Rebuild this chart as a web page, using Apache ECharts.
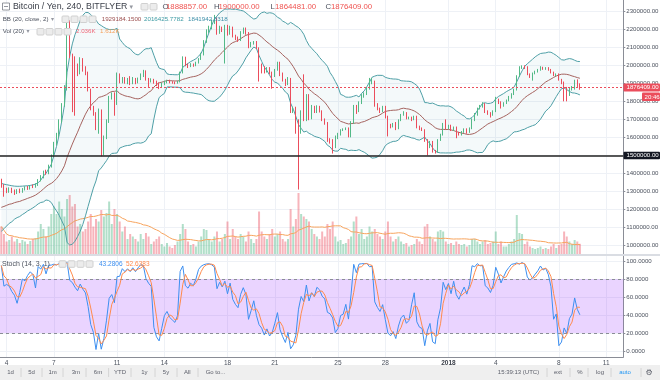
<!DOCTYPE html>
<html><head><meta charset="utf-8">
<script src="https://cdn.jsdelivr.net/npm/echarts@6/dist/echarts.min.js"></script>
<style>html,body{margin:0;padding:0;background:#fff}#c{width:660px;height:380px}</style>
</head><body><div id="c"></div>
<script>
// ---- DATA (prices in thousands of JPY, 4h bars from 2017-12-03 16:00) ----
const opens = [1358,1335,1310,1300,1315,1300,1292,1305,1298,1312,1320,1315,1328,1325,1340,1362,1380,1410,1400,1440,
1495,1565,1610,1690,1780,1870,2230,2050,2030,1990,1960,2030,1983,1960,1865,1760,1735,1650,1745,1510,
1600,1690,1820,1840,1790,1945,1910,1925,1905,1920,1905,1925,1905,1925,1945,1960,1925,1912,1920,1905,
1895,1880,1895,1910,1915,1908,1905,1902,1910,1960,2040,2000,1995,2005,2000,2015,2035,2060,2130,2190,
2210,2240,2255,2180,2210,2195,2215,2175,2210,2165,2150,2140,2180,2200,2180,2105,2125,2130,2095,2002,
1990,1965,1985,1960,1940,1975,2015,1950,1920,1895,1925,1745,1760,1690,1640,1740,1700,1830,1705,1770,
1740,1770,1745,1700,1680,1585,1575,1545,1600,1620,1640,1645,1650,1605,1680,1770,1745,1790,1830,1840,
1870,1905,1910,1780,1760,1745,1770,1715,1670,1660,1675,1650,1695,1725,1735,1705,1710,1700,1715,1660,
1650,1640,1585,1555,1575,1525,1520,1585,1615,1668,1650,1665,1640,1655,1625,1615,1630,1645,1630,1650,
1695,1725,1760,1770,1785,1740,1735,1725,1745,1810,1795,1775,1790,1805,1820,1840,1865,1940,1985,1995,
1990,1950,1945,1955,1965,1975,1988,1980,1985,1975,1960,1945,1950,1920,1905,1850,1838,1870,1880,1915,1888.857];
const closes = [1335,1310,1300,1315,1300,1292,1305,1298,1312,1320,1315,1328,1325,1340,1362,1380,1410,1400,1440,1495,
1565,1610,1690,1780,1870,2230,2050,2030,1990,1960,2030,1983,1960,1865,1760,1735,1650,1745,1510,1600,
1690,1820,1840,1790,1945,1910,1925,1905,1920,1905,1925,1905,1925,1945,1960,1925,1912,1920,1905,1895,
1880,1895,1910,1915,1908,1905,1902,1910,1960,2040,2000,1995,2005,2000,2015,2035,2060,2130,2190,2210,
2240,2255,2180,2210,2195,2215,2175,2210,2165,2150,2140,2180,2200,2180,2105,2125,2130,2095,2002,1990,
1965,1985,1960,1940,1975,2015,1950,1920,1895,1925,1745,1760,1690,1640,1740,1700,1830,1705,1770,1740,
1770,1745,1700,1680,1585,1575,1545,1600,1620,1640,1645,1650,1605,1680,1770,1745,1790,1830,1840,1870,
1905,1910,1780,1760,1745,1770,1715,1670,1660,1675,1650,1695,1725,1735,1705,1710,1700,1715,1660,1650,
1640,1585,1555,1575,1525,1520,1585,1615,1668,1650,1665,1640,1655,1625,1615,1630,1645,1630,1650,1695,
1725,1760,1770,1785,1740,1735,1725,1745,1810,1795,1775,1790,1805,1820,1840,1865,1940,1985,1995,1990,
1950,1945,1955,1965,1975,1988,1980,1985,1975,1960,1945,1950,1920,1905,1850,1838,1870,1880,1915,1889,1876.409];
const highs = [1370,1340,1320,1322,1320,1310,1312,1315,1318,1328,1330,1335,1338,1345,1368,1390,1415,1420,1448,1505,
1575,1625,1700,1790,1890,2240,2250,2065,2050,2010,2045,2040,1995,1965,1870,1775,1740,1760,1755,1610,
1700,1830,1850,1850,1960,1955,1935,1935,1930,1940,1935,1930,1932,1955,1975,1972,1930,1928,1925,1915,
1905,1905,1915,1920,1920,1912,1910,1915,1965,2050,2048,2010,2012,2010,2020,2040,2070,2140,2200,2220,
2255,2280,2265,2220,2215,2225,2225,2220,2215,2170,2160,2190,2210,2210,2185,2130,2135,2135,2100,2010,
1995,1990,1990,1965,1980,2020,2020,1960,1925,1935,1930,1770,1770,1700,1750,1950,1840,1840,1780,1775,
1778,1775,1750,1705,1685,1595,1590,1610,1625,1645,1650,1655,1655,1690,1780,1780,1800,1840,1850,1880,
1930,1930,1915,1790,1765,1775,1775,1720,1675,1680,1685,1700,1730,1745,1740,1715,1715,1720,1720,1665,
1655,1645,1590,1580,1580,1530,1590,1620,1680,1700,1670,1670,1660,1660,1630,1635,1650,1650,1655,1705,
1735,1765,1780,1795,1790,1750,1740,1750,1825,1815,1800,1795,1810,1830,1845,1870,1945,1995,2000,2000,
1995,1955,1960,1970,1980,1995,1992,1990,1990,1980,1965,1955,1955,1925,1910,1880,1875,1885,1920,1922,1900];
const lows = [1320,1270,1290,1292,1290,1280,1285,1290,1292,1305,1308,1310,1318,1320,1330,1355,1372,1392,1395,1432,
1490,1555,1600,1680,1770,1860,2040,1740,1720,1940,1950,1965,1945,1855,1750,1720,1640,1620,1495,1500,
1590,1680,1810,1720,1780,1900,1900,1898,1895,1890,1895,1895,1900,1918,1935,1915,1880,1905,1898,1885,
1868,1875,1890,1900,1900,1898,1895,1898,1905,1955,1995,1985,1990,1992,1995,2010,2030,2055,2125,2180,
2200,2230,2170,2175,2185,2010,2165,2170,2155,2140,2130,2135,2175,2170,2095,2100,2115,2090,1910,1955,
1955,1960,1950,1870,1935,1970,1940,1910,1885,1890,1735,1735,1620,1310,1620,1690,1690,1695,1700,1735,
1735,1738,1690,1670,1575,1565,1510,1540,1590,1610,1635,1640,1600,1600,1675,1730,1740,1785,1820,1835,
1865,1895,1770,1750,1735,1740,1705,1605,1650,1655,1640,1645,1690,1720,1700,1700,1690,1695,1650,1640,
1635,1575,1500,1540,1515,1510,1515,1580,1610,1645,1645,1635,1635,1595,1610,1610,1625,1620,1625,1645,
1690,1720,1755,1765,1735,1725,1710,1720,1740,1785,1760,1770,1785,1800,1815,1835,1860,1935,1980,1980,
1945,1930,1915,1950,1960,1970,1975,1975,1970,1955,1940,1940,1915,1895,1800,1800,1830,1860,1865,1880,1864.481];
// volume in thousands (K)
const volumes = [5.5,4.0,2.5,2.8,3.5,2.5,3.0,2.2,2.8,2.5,2.0,2.6,3.0,3.2,
4.5,6.0,5.0,3.5,5.5,8.0,9.5,8.0,10.5,9.0,7.5,11.0,11.8,9.5,10.0,5.5,6.0,4.5,5.0,6.5,8.0,5.5,7.0,6.5,8.8,7.5,8.2,10.5,6.0,9.0,8.0,6.5,
4.5,5.5,3.0,4.0,3.5,3.0,2.5,4.0,3.0,4.2,3.5,2.0,2.5,3.0,3.5,2.0,1.5,2.2,1.5,1.2,1.8,2.5,4.0,6.0,5.0,2.5,1.8,2.0,1.5,2.5,3.5,5.0,4.8,3.0,2.5,3.5,4.5,2.5,3.0,4.0,6.5,3.0,5.0,3.5,
3.0,4.0,3.5,2.5,4.5,3.0,2.2,3.0,8.5,4.5,3.5,3.0,4.0,5.0,3.5,4.0,4.5,3.0,2.5,3.0,9.0,5.5,7.0,12.2,8.0,7.5,7.0,6.5,5.0,4.0,3.5,3.0,4.5,3.5,6.0,5.0,6.5,3.5,2.5,2.8,2.0,2.2,3.0,3.5,6.5,
7.5,4.0,5.0,3.0,3.5,5.5,4.5,5.0,4.0,3.5,3.0,4.5,6.5,3.5,2.5,3.0,3.5,2.5,2.0,2.2,1.5,1.8,2.0,3.0,2.5,2.0,5.5,6.0,3.5,3.0,2.5,4.5,4.8,4.5,2.5,2.0,2.2,1.8,2.5,2.0,1.8,2.0,1.5,1.8,3.0,
3.0,2.5,2.0,2.5,2.8,2.0,2.2,2.5,4.5,2.0,2.5,1.5,1.5,2.0,2.5,3.0,7.8,4.2,4.0,2.0,2.5,1.5,1.2,1.0,1.2,1.5,1.0,1.2,1.0,1.5,2.0,1.2,1.8,2.0,4.5,3.5,2.5,2.0,2.8,2.5,2.036];
// Bollinger values for the first bars (before a full 20-bar window)
const bbHeadMid = [1211,1216,1222,1228,1231,1237,1241,1244,1250,1255,1261,1266,1272,1279,1289,1300,1313,1326,1337];
const bbHeadUp  = [1344,1340,1337,1334,1331,1329,1328,1328,1329,1330,1331,1333,1336,1340,1348,1362,1385,1400,1425];
const bbHeadLow = [1078,1092,1107,1122,1131,1145,1154,1160,1171,1180,1191,1199,1208,1218,1230,1238,1241,1252,1249];
// Stoch %K for the first bars (before a full 14-bar window)
const stochHeadK = [95,72,74,72,66,62,53,65,80,78,84,88,85];
// x axis tick labels
const tickIndex  = [2,20,44,62,86,104,128,146,170,188,212,230];
const tickLabels = ['4','7','11','14','18','21','25','28','2018','4','8','11'];
const priceTicks = [1000000,2400000,100000]; // min, max, step
const lastPrice = 1876409;
const levelLine = 1500000;

// ---- build ----
const K = 1000, N = closes.length, M = 237;
const cats = [];
for (let i = 0; i < M; i++) cats.push(new Date(Date.UTC(2017, 11, 3, 16) + i * 4 * 3600e3).toISOString().slice(0, 13));
const candle = opens.map((o, i) => [o * K, closes[i] * K, lows[i] * K, highs[i] * K]);
const bbMid = [], bbUp = [], bbLow = [], bbBand = [];
for (let i = 0; i < N; i++) {
  let m, u, l;
  if (i < bbHeadMid.length) { m = bbHeadMid[i]; u = bbHeadUp[i]; l = bbHeadLow[i]; }
  else {
    const w = closes.slice(i - 19, i + 1);
    m = w.reduce((a, b) => a + b, 0) / 20;
    const sd = Math.sqrt(w.reduce((a, b) => a + (b - m) * (b - m), 0) / 20);
    u = m + 2 * sd; l = m - 2 * sd;
  }
  bbMid.push(m * K); bbUp.push(u * K); bbLow.push(l * K); bbBand.push((u - l) * K);
}
const volMA = volumes.map((v, i) => { const w = volumes.slice(Math.max(0, i - 19), i + 1); return w.reduce((a, b) => a + b, 0) / w.length; });
const stochK = [];
for (let i = 0; i < N; i++) {
  if (i < stochHeadK.length) { stochK.push(stochHeadK[i]); continue; }
  let hh = -Infinity, ll = Infinity;
  for (let t = i - 13; t <= i; t++) { hh = Math.max(hh, highs[t]); ll = Math.min(ll, lows[t]); }
  stochK.push(100 * (closes[i] - ll) / (hh - ll));
}
const stochD = stochK.map((v, i) => { const w = stochK.slice(Math.max(0, i - 2), i + 1); return w.reduce((a, b) => a + b, 0) / w.length; });

const up = '#53b987', down = '#eb4d5c';
const volData = volumes.map((v, i) => ({ value: v, itemStyle: { color: closes[i] >= opens[i] ? 'rgba(83,185,135,0.45)' : 'rgba(235,77,92,0.42)' } }));
const FONT = 'Liberation Sans';
const gridLine = '#eef1f6';
const isTick = (i) => tickIndex.indexOf(i) >= 0;
const R = 36.7;
const axisCol = '#8a8d96';

const chart = echarts.init(document.getElementById('c'), null, { renderer: 'canvas' });
const baseX = (gi, extra) => Object.assign({ type: 'category', gridIndex: gi, data: cats, boundaryGap: true,
  axisLine: { show: false }, axisTick: { show: false }, axisLabel: { show: false }, splitLine: { show: false } }, extra || {});
const G = (o) => Object.assign({ left: 0, right: R, outerBoundsMode: 'none', containLabel: false }, o);
chart.setOption({
  animation: false,
  textStyle: { fontFamily: FONT },
  grid: [
    G({ top: -6.667, height: 252 }),
    G({ top: 0, height: 254 }),
    G({ top: 261, height: 90 }),
    G({ top: 256, height: 101 })
  ],
  xAxis: [
    baseX(0),
    baseX(1, { splitLine: { show: true, interval: (i) => isTick(i), alignWithLabel: true, lineStyle: { color: gridLine, width: 1 } } }),
    baseX(2),
    baseX(3, {
      axisLine: { show: true, lineStyle: { color: axisCol } },
      axisLabel: { show: true, interval: (i) => isTick(i), margin: 3, fontSize: 6.5, color: '#4c525e',
        formatter: (v, i) => { const s = tickLabels[tickIndex.indexOf(i)]; return s === '2018' ? '{b|2018}' : s; },
        rich: { b: { fontWeight: 'bold', fontSize: 6.5, color: '#3c404a' } } },
      splitLine: { show: true, interval: (i) => isTick(i), alignWithLabel: true, lineStyle: { color: gridLine, width: 1 } }
    })
  ],
  yAxis: [
    { type: 'value', gridIndex: 0, position: 'right', min: priceTicks[0], max: priceTicks[1], interval: priceTicks[2],
      axisLine: { show: true, lineStyle: { color: axisCol } }, axisTick: { show: true, length: 2, lineStyle: { color: axisCol } },
      axisLabel: { fontSize: 6.1, color: '#4c525e', margin: 3, formatter: (v) => v.toFixed(2) },
      splitLine: { show: true, lineStyle: { color: gridLine } } },
    { type: 'value', gridIndex: 1, position: 'right', min: 0, max: 50.8,
      axisLine: { show: true, lineStyle: { color: axisCol } }, axisTick: { show: false }, axisLabel: { show: false }, splitLine: { show: false } },
    { type: 'value', gridIndex: 2, position: 'right', min: 0, max: 100, interval: 20,
      axisLine: { show: true, lineStyle: { color: axisCol } }, axisTick: { show: true, length: 2, lineStyle: { color: axisCol } },
      axisLabel: { fontSize: 6.1, color: '#4c525e', margin: 3, formatter: (v) => v.toFixed(4) },
      splitLine: { show: true, lineStyle: { color: gridLine } } },
    { type: 'value', gridIndex: 3, position: 'right', min: 0, max: 1,
      axisLine: { show: true, lineStyle: { color: axisCol } }, axisTick: { show: false }, axisLabel: { show: false }, splitLine: { show: false } }
  ],
  series: [
    { type: 'bar', xAxisIndex: 1, yAxisIndex: 1, data: volData, barWidth: 2, silent: true, z: 1 },
    { type: 'line', xAxisIndex: 1, yAxisIndex: 1, data: volMA, symbol: 'none', lineStyle: { color: '#f7a35c', width: 1 }, silent: true, z: 2 },
    { type: 'line', xAxisIndex: 0, yAxisIndex: 0, data: bbLow, stack: 'bb', symbol: 'none', clip: false,
      lineStyle: { color: '#4e9fa6', width: 1 }, silent: true, z: 3 },
    { type: 'line', xAxisIndex: 0, yAxisIndex: 0, data: bbBand, stack: 'bb', symbol: 'none', clip: false,
      lineStyle: { color: '#4e9fa6', width: 1 }, areaStyle: { color: 'rgba(60,150,155,0.08)' }, silent: true, z: 3 },
    { type: 'line', xAxisIndex: 0, yAxisIndex: 0, data: bbMid, symbol: 'none', lineStyle: { color: '#a5635f', width: 1 }, silent: true, z: 3 },
    { type: 'candlestick', xAxisIndex: 0, yAxisIndex: 0, data: candle, barWidth: 1, silent: true, z: 4,
      itemStyle: { color: up, color0: down, borderColor: up, borderColor0: down, borderWidth: 1 },
      markLine: { silent: true, symbol: 'none', label: { show: false }, animation: false,
        data: [
          { yAxis: levelLine, lineStyle: { color: '#222', width: 1.5, type: 'solid' } },
          { yAxis: lastPrice, lineStyle: { color: down, width: 1, type: [2, 2] } }
        ] } },
    { type: 'line', xAxisIndex: 2, yAxisIndex: 2, data: stochK, symbol: 'none', lineStyle: { color: '#3d8ff0', width: 1 }, silent: true, z: 4,
      markArea: { silent: true, itemStyle: { color: 'rgba(150,40,255,0.2)' }, data: [[{ yAxis: 20 }, { yAxis: 80 }]] },
      markLine: { silent: true, symbol: 'none', label: { show: false },
        lineStyle: { color: '#8a8d96', width: 1, type: [3, 3] }, data: [{ yAxis: 80 }, { yAxis: 20 }] } },
    { type: 'line', xAxisIndex: 2, yAxisIndex: 2, data: stochD, symbol: 'none', lineStyle: { color: '#ff8a4c', width: 1 }, silent: true, z: 5 },
    { type: 'line', xAxisIndex: 3, yAxisIndex: 3, data: [], silent: true }
  ]
});

// overlays: legends, price tags, toolbar
const py = chart.convertToPixel({ yAxisIndex: 0 }, lastPrice);
const ly = chart.convertToPixel({ yAxisIndex: 0 }, levelLine);
const g = [];
const T = (text, x, y, fill, size, extra) => g.push(Object.assign({ type: 'text', x: x, y: y, z: 100,
  style: Object.assign({ text: text, fill: fill, fontSize: size, fontFamily: FONT, verticalAlign: 'middle', align: 'left' }, (extra && extra.style) || {}) }, extra && extra.pos || {}));
const box = (x, y, w, h, fill, stroke) => g.push({ type: 'rect', z: 99, shape: { x: x, y: y, width: w, height: h, r: 1 }, style: { fill: fill, stroke: stroke || null, lineWidth: 1 } });
const icons = (x0, y0, n) => { for (let k = 0; k < n; k++) box(x0 + k * 9, y0, 7, 6.5, '#ececec', '#d0d0d0'); };
const grey = '#4c525e', tri = '#9598a1', red = '#ef5350';
// row 1
g.push({ type: 'rect', z: 99, shape: { x: 2.5, y: 3, width: 7, height: 7 }, style: { fill: '#fff', stroke: '#7a7d86', lineWidth: 0.8 } });
g.push({ type: 'line', z: 100, shape: { x1: 4, y1: 6.5, x2: 8, y2: 6.5 }, style: { stroke: '#7a7d86', lineWidth: 0.8 } });
T('Bitcoin / Yen, 240, BITFLYER', 13, 7, '#3c404a', 8.8);
T('▾', 129.5, 7, tri, 7, { style: { fontFamily: 'DejaVu Sans' } });
icons(141, 3.5, 2);
T('O', 162.5, 7, grey, 7.8); T('1888857.00', 166, 7, red, 7.8);
T('H', 214, 7, grey, 7.8); T('1900000.00', 218.5, 7, red, 7.8);
T('L', 270.5, 7, grey, 7.8); T('1864481.00', 275, 7, red, 7.8);
T('C', 325.5, 7, grey, 7.8); T('1876409.00', 331, 7, red, 7.8);
// row 2
T('BB (20, close, 2)', 2.7, 19.3, grey, 6.2);
T('▾', 51, 19.3, tri, 6, { style: { fontFamily: 'DejaVu Sans' } });
icons(62, 16, 4);
T('1929184.1500', 101.7, 19.3, '#9c4f4f', 6.2);
T('2016425.7782', 144, 19.3, '#3c9aa3', 6.2);
T('1841942.8318', 188, 19.3, '#3c8ea8', 6.2);
// row 3
T('Vol (20)', 2.7, 31.7, grey, 6.2);
T('▾', 26.5, 31.7, tri, 6, { style: { fontFamily: 'DejaVu Sans' } });
icons(37, 28.5, 4);
T('2.036K', 76, 31.7, '#ef6a7a', 6.2);
T('1.612K', 100, 31.7, '#f5a05a', 6.2);
// stoch header
T('Stoch (14, 3, 1)', 2, 264, grey, 7);
icons(59, 260.8, 4);
T('43.2806', 99, 264, '#3d8ff0', 6.5);
T('52.6383', 126, 264, '#ff8a4c', 6.5);
// price tags
box(623.5, py - 4, 36.5, 8, down); T('1876409.00', 626.5, py, '#fff', 6.1);
box(642, py + 5, 18, 8.5, down); T('20:46', 644.5, py + 9.3, '#fff', 6.1);
box(623.5, ly - 3.5, 36.5, 7.5, '#131722'); T('1500000.00', 626.5, ly + 0.2, '#fff', 6.1);
// pane separator
g.push({ type: 'rect', z: 98, shape: { x: 0, y: 254, width: 660, height: 2 }, style: { fill: '#dadde3' } });
// bottom toolbar
g.push({ type: 'rect', z: 98, shape: { x: 0, y: 365, width: 660, height: 15 }, style: { fill: '#efefef' } });
const tb = [['1d', 10.5], ['5d', 31.6], ['1m', 52.6], ['3m', 75.8], ['6m', 98], ['YTD', 120], ['1y', 144.4], ['5y', 166], ['All', 187.3], ['Go to...', 215.5],
  ['15:39:13 (UTC)', 518.5], ['ext', 558], ['%', 580], ['log', 600], ['auto', 625], ['⚙', 649]];
tb.forEach(([t, x]) => T(t, x, 372.5, t === 'auto' ? '#2196f3' : '#5d606b', t === '⚙' ? 8 : 6,
  { style: { align: 'center', fontFamily: t === '⚙' ? 'DejaVu Sans' : FONT } }));
[21, 42, 63, 86, 108.6, 131, 155, 177, 198, 547, 570, 588, 611, 641].forEach((x) =>
  g.push({ type: 'line', z: 100, shape: { x1: x, y1: 368, x2: x, y2: 377 }, style: { stroke: '#d4d4d4', lineWidth: 1 } }));
chart.setOption({ graphic: g });
</script>
</body></html>
